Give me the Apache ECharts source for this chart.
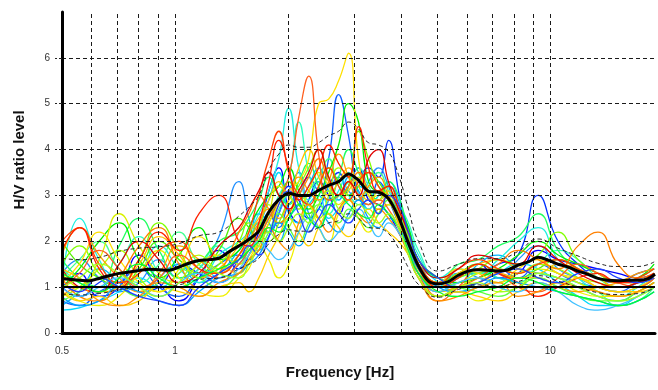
<!DOCTYPE html>
<html>
<head>
<meta charset="utf-8">
<script src="https://cdn.jsdelivr.net/npm/echarts@6/dist/echarts.min.js"></script>
<style>
  html, body { margin: 0; padding: 0; background: #fff; }
  #chart { width: 658px; height: 390px; }
</style>
</head>
<body>
<div id="chart"></div>
<script>
// Frequency samples (Hz) shared by the individual window curves and the std curves
const curveFreq = [0.5, 0.556, 0.628, 0.71, 0.802, 0.906, 1.025, 1.158, 1.309, 1.48,
  1.573, 1.672, 1.778, 1.89, 2.009, 2.136, 2.271, 2.414, 2.566, 2.728,
  2.9, 3.083, 3.278, 3.485, 3.704, 3.939, 4.187, 4.451, 5.031, 5.686,
  6.426, 7.262, 8.207, 9.275, 10.48, 11.85, 13.39, 15.13, 17.1, 18.9];

// H/V ratio of each time window
const w01 = [0.9,1.3,0.8,1.0,1.7,1.1,0.7,1.2,1.8,1.4, 1.7,2.2,3.1,3.6,2.7,2.4,2.9,3.3,3.0,2.6, 3.2,3.6,2.9,2.8,2.6,2.2,1.8,1.3,1.0,1.2, 1.5,1.2,1.3,1.8,1.6,1.5,1.4,1.3,1.2,1.3];
const w02 = [1.0,0.8,1.1,1.3,0.9,1.0,1.5,1.3,1.1,1.6, 1.9,2.4,2.2,2.6,3.2,2.9,2.5,2.7,3.2,3.5, 3.0,3.3,3.6,3.4,4.2,3.1,2.0,1.3,1.1,1.3, 1.3,1.5,1.7,3.0,2.0,1.5,1.2,1.1,1.3,1.4];
const w03 = [0.7,0.6,0.9,1.1,1.4,1.0,0.8,1.2,1.5,1.7, 1.6,2.0,2.6,2.3,2.8,3.0,3.4,3.1,3.8,5.2, 4.3,3.0,2.8,3.3,2.9,2.4,1.9,1.4,1.0,1.1, 1.2,1.4,1.2,1.5,1.3,1.1,1.0,0.9,1.1,1.2];
const w04 = [1.3,1.6,1.2,0.9,1.1,1.6,1.2,1.4,2.1,3.3, 2.5,1.8,2.1,2.6,3.1,3.5,2.6,2.3,2.9,3.4, 3.1,2.9,3.3,3.6,3.2,2.6,2.0,1.5,1.1,1.4, 1.2,1.1,1.6,1.9,1.4,1.2,1.0,0.9,1.0,1.2];
const w05 = [0.6,0.9,1.4,1.1,0.8,1.2,1.5,1.1,1.3,1.8, 2.1,2.6,2.4,2.0,2.5,2.8,3.2,3.6,3.1,2.9, 3.4,3.1,2.7,3.0,3.3,2.9,2.1,1.5,1.2,1.1, 1.5,1.7,1.4,1.3,1.2,1.0,0.8,0.7,0.9,1.1];
const w06 = [0.5,0.55,0.7,0.9,1.2,1.0,1.3,1.6,1.2,1.5, 1.9,2.3,2.9,3.5,2.6,2.4,2.8,3.0,2.5,2.7, 2.9,3.2,3.0,2.6,2.8,2.6,2.2,1.6,1.1,0.9, 1.1,1.3,1.5,1.4,1.1,0.8,0.6,0.6,0.8,1.0];
const w07 = [1.1,2.5,1.6,1.0,1.3,1.9,1.4,1.1,1.7,2.0, 2.2,2.6,3.1,3.8,4.9,3.6,2.9,3.3,2.8,3.1, 3.5,3.0,2.7,3.0,3.1,2.7,2.3,1.7,1.2,1.4, 1.3,1.6,2.0,2.3,1.6,1.2,0.9,0.8,1.0,1.3];
const w08 = [1.4,1.1,0.9,1.5,2.1,1.3,1.0,1.4,1.9,1.5, 1.8,2.1,2.5,3.0,3.4,4.6,3.5,2.9,2.6,3.0, 3.3,3.6,3.2,2.9,3.0,2.8,2.4,1.8,1.2,1.3, 1.4,1.2,1.1,1.5,1.8,1.6,1.2,1.0,1.1,1.3];
const w09 = [1.2,1.6,2.0,1.4,1.1,1.5,2.2,1.5,1.3,1.7, 2.0,2.4,2.2,2.7,3.0,2.7,3.1,3.4,3.8,3.2, 3.0,2.8,3.2,3.5,3.1,2.7,2.1,1.5,1.0,1.2, 1.3,1.2,1.1,1.3,1.2,1.1,0.9,0.6,0.7,1.0];
const w10 = [1.6,1.2,1.0,1.9,2.5,1.8,1.2,1.5,2.0,2.2, 2.5,2.9,3.4,3.0,2.8,3.3,3.7,3.2,2.9,3.4, 4.0,3.5,3.1,2.9,3.3,3.0,2.2,1.5,1.1,1.5, 1.6,1.9,2.1,2.6,1.8,1.4,1.2,1.1,1.2,1.4];
const w11 = [1.0,1.4,2.0,2.4,1.6,1.2,1.7,2.3,1.6,1.8, 2.3,2.7,3.0,3.2,3.6,3.1,2.7,3.0,3.5,4.1, 5.0,4.6,3.3,3.1,3.2,2.8,2.3,1.6,1.2,1.1, 1.2,1.4,1.7,2.0,1.7,1.5,1.3,1.1,1.2,1.5];
const w12 = [2.0,1.5,1.2,1.0,1.4,2.0,1.6,1.3,1.8,2.5, 2.3,2.0,2.4,2.9,3.3,2.8,2.6,3.2,3.6,3.3, 3.0,3.2,3.5,3.3,2.9,2.5,2.0,1.5,1.1,1.3, 1.5,1.3,1.2,1.4,1.6,1.4,1.2,1.0,1.1,1.3];
const w13 = [1.5,1.9,1.3,1.1,1.6,2.4,1.8,1.2,1.5,2.0, 2.4,2.2,2.0,2.4,2.9,3.2,3.6,4.0,3.4,3.0, 3.2,4.4,3.8,3.2,3.0,2.6,2.0,1.4,1.0,1.2, 1.4,1.6,1.5,1.7,2.2,1.6,1.3,1.1,1.1,1.3];
const w14 = [0.8,1.0,1.4,1.8,1.2,0.9,1.3,1.7,1.4,1.6, 1.9,2.3,2.8,2.4,2.6,3.0,2.8,2.5,3.0,3.6, 3.4,3.0,2.8,3.1,2.9,2.5,1.9,1.4,1.0,1.1, 1.3,1.4,1.3,1.5,1.4,1.2,1.1,1.0,1.0,1.2];
const w15 = [1.3,1.0,1.6,2.6,1.9,1.3,1.1,1.5,1.7,1.5, 1.7,2.0,2.6,3.2,3.0,2.7,3.1,3.5,3.2,2.8, 3.1,3.4,3.0,2.7,2.8,2.4,1.8,1.3,0.9,1.0, 1.2,1.1,1.3,1.4,1.3,1.1,0.9,0.8,0.9,1.1];
const w16 = [0.9,0.7,0.6,0.8,1.3,1.8,1.2,0.9,0.8,1.2, 1.4,1.9,1.6,1.2,1.5,2.2,2.8,2.3,2.0,2.6, 2.9,2.5,2.2,2.6,2.8,2.6,2.0,1.3,0.8,0.9, 0.7,0.9,1.1,1.0,1.1,0.9,0.8,0.8,0.9,1.1];
const w17 = [1.1,1.5,2.2,1.6,1.1,0.9,1.4,2.1,1.6,1.3, 1.6,2.0,2.4,2.8,3.1,3.3,3.8,5.0,5.1,5.5, 6.1,3.8,3.0,2.9,3.1,2.7,2.1,1.5,1.1,1.4, 1.3,1.1,1.4,1.6,1.3,1.2,1.0,0.9,1.0,1.2];
const w18 = [1.4,1.2,0.9,1.0,1.5,2.1,1.7,1.2,1.4,1.9, 2.2,2.5,2.9,3.3,3.0,3.6,4.0,3.4,3.0,3.3, 3.6,3.2,2.9,3.0,2.9,2.4,1.9,1.4,1.0,1.3, 1.5,1.6,1.4,1.3,1.5,1.4,1.2,1.0,1.1,1.3];
const w19 = [1.7,2.3,1.7,1.2,0.9,1.3,1.9,1.6,1.3,1.7, 2.0,2.4,2.7,2.5,2.9,3.4,3.1,2.9,3.3,3.9, 3.4,2.9,3.2,3.4,3.0,2.6,2.0,1.4,0.9,1.0, 1.1,1.3,1.2,1.2,1.0,0.9,1.0,1.1,1.3,1.4];
const w20 = [1.2,0.8,0.7,1.2,1.9,2.3,1.5,1.0,1.3,2.2, 2.6,3.0,2.7,2.4,2.6,3.0,3.4,3.8,3.3,3.0, 3.2,3.5,3.1,2.8,3.0,2.7,2.1,1.5,0.8,1.0, 1.2,1.5,1.8,1.6,1.4,1.9,2.2,1.5,1.2,1.3];
const w21 = [1.0,1.3,1.8,1.4,1.0,1.2,1.7,1.4,1.2,1.5, 1.8,2.1,2.5,2.9,3.4,4.7,5.6,3.9,2.9,3.0, 3.3,3.0,2.8,2.9,2.7,2.3,1.8,1.3,0.7,1.0, 1.4,1.3,1.0,0.9,1.2,1.5,1.3,1.1,1.0,1.2];
const w22 = [2.0,2.3,1.5,1.1,1.3,1.8,2.0,1.4,1.3,1.7, 2.2,3.0,3.8,4.4,3.5,3.0,2.8,3.2,3.6,3.2, 2.9,3.3,3.5,3.2,2.9,2.6,2.0,1.5,1.1,1.4, 1.6,1.4,1.3,1.5,1.6,1.4,1.2,1.1,1.2,1.4];
const w23 = [1.8,2.3,1.4,1.0,1.6,2.2,1.8,2.6,3.0,2.0, 1.9,2.4,3.3,4.2,3.6,2.9,3.2,3.6,4.1,3.7, 3.4,4.5,3.6,3.1,3.2,2.8,2.1,1.5,1.0,1.2, 1.5,1.3,1.1,0.8,1.0,1.2,1.3,1.1,1.1,1.3];
const w24 = [1.4,1.0,0.9,1.5,2.0,1.6,1.1,1.3,1.9,2.3, 2.7,3.1,3.5,3.0,2.7,3.1,3.5,4.0,3.4,3.0, 3.3,3.0,3.8,4.0,3.3,2.7,2.2,1.6,1.2,1.4, 1.7,1.6,1.5,1.9,1.6,1.3,1.1,1.0,1.1,1.3];
const w25 = [0.8,0.6,0.7,1.0,0.9,0.7,0.6,0.9,1.2,1.3, 1.5,1.7,2.1,2.4,2.2,1.9,2.3,2.7,2.4,2.2, 2.6,2.9,2.5,2.3,2.5,2.3,1.9,1.4,1.0,0.9, 1.0,1.2,1.1,1.0,0.9,0.8,0.7,0.6,0.7,0.9];
const w26 = [0.7,0.9,1.2,1.0,0.8,1.1,1.4,1.2,1.0,1.3, 1.6,1.8,2.2,2.6,2.3,2.0,2.4,2.8,2.6,2.4, 2.7,2.5,2.3,2.6,2.9,2.6,2.1,1.6,1.2,1.0, 0.9,0.8,1.0,1.2,1.0,0.8,0.7,0.7,0.9,1.1];
const w27 = [0.9,0.7,0.8,0.6,0.7,1.0,0.9,0.8,1.0,1.1, 0.9,1.2,1.7,2.1,2.5,2.2,1.9,2.3,2.6,2.3, 2.1,2.4,2.7,2.4,2.2,2.0,1.7,1.2,0.8,0.9, 0.8,0.7,0.9,1.1,1.0,1.2,1.0,0.9,0.9,1.0];
const w28 = [0.8,1.0,0.7,0.6,0.8,1.1,1.0,0.8,1.1,1.3, 1.6,1.8,2.3,2.0,1.8,2.4,2.8,2.5,2.2,2.7, 2.9,2.6,2.4,2.7,2.5,2.2,1.7,1.2,0.7,0.8, 1.0,1.1,0.8,0.9,1.1,1.0,0.9,0.8,0.9,1.1];
const w29 = [1.0,0.8,1.0,1.2,1.0,0.8,1.1,1.3,1.1,1.4, 1.7,2.0,1.8,1.6,1.8,2.2,2.5,2.3,2.0,2.2, 2.5,2.7,2.4,2.1,2.4,2.2,1.8,1.3,0.9,1.1, 1.2,1.0,0.9,1.1,0.9,0.6,0.5,0.6,0.8,1.0];
const w30 = [1.3,1.1,0.9,1.2,1.5,1.2,1.0,1.2,1.4,1.6, 1.8,2.0,2.3,2.2,2.5,2.8,2.5,2.3,2.7,3.0, 2.8,2.6,2.5,2.8,2.6,2.3,1.8,1.3,0.9,0.8, 0.9,1.0,1.2,1.1,0.9,0.8,0.7,0.6,0.7,0.9];
const w31 = [1.1,0.9,1.2,1.0,0.8,0.7,0.6,1.0,1.3,1.6, 1.9,1.7,2.1,2.8,3.1,2.6,2.2,2.5,2.8,2.6, 2.4,2.7,2.9,2.6,3.0,2.8,2.2,1.6,1.2,1.0, 1.1,1.3,1.4,1.2,1.1,1.3,1.4,1.2,1.1,1.2];
const w32 = [1.0,1.2,1.5,1.3,1.0,0.8,1.1,1.6,1.3,1.2, 1.5,1.9,2.2,2.0,2.3,2.6,2.4,2.8,3.1,2.7, 2.5,2.8,2.6,2.4,2.6,2.3,1.7,1.2,0.8,1.0, 1.1,0.9,1.0,1.3,1.2,1.0,0.8,0.7,0.8,1.0];

const windowCurves = [w01, w02, w03, w04, w05, w06, w07, w08, w09, w10, w11, w12, w13, w14, w15, w16,
  w17, w18, w19, w20, w21, w22, w23, w24, w25, w26, w27, w28, w29, w30, w31, w32];
const windowColors = ['#0000ff', '#0030ff', '#1060ff', '#2090ff', '#00b0ff', '#00d8ff', '#20f0e0', '#30ffc0',
  '#40ff90', '#20ff60', '#00f000', '#50f000', '#80ff00', '#b0ff00', '#d8f000', '#f0f000',
  '#ffe000', '#ffc000', '#ffa000', '#ff8000', '#ff6020', '#ff4000', '#ff2000', '#e00000',
  '#00a0ff', '#60ff40', '#ffd000', '#ff9000', '#40c0ff', '#00ff30', '#2040ff', '#a0ff20'];

// Standard deviation band of the average H/V
const stdUpper = [1.63,1.60,1.65,1.78,1.85,1.88,1.95,2.12,2.20,2.55, 2.75,3.00,3.55,3.90,4.10,4.05,4.05,4.15,4.30,4.40, 4.60,4.45,4.15,4.10,3.95,3.45,2.70,2.00,1.35,1.50, 1.62,1.62,1.78,2.05,1.85,1.68,1.52,1.45,1.45,1.55];
const stdLower = [0.85,0.83,0.86,0.94,0.99,1.00,1.05,1.17,1.20,1.40, 1.50,1.63,1.95,2.15,2.25,2.22,2.22,2.30,2.40,2.45, 2.60,2.50,2.30,2.28,2.17,1.85,1.42,1.06,0.78,0.95, 1.05,1.02,1.12,1.25,1.13,1.00,0.88,0.84,0.86,0.98];

// Average H/V curve
const meanFreq = [0.5,0.522,0.556,0.59,0.628,0.667,0.71,0.755,0.802,0.853, 0.906,0.964,1.025,1.089,1.158,1.231,1.309,1.392,1.48,1.573,
  1.672,1.778,1.89,2.009,2.136,2.271,2.414,2.566,2.728,2.9, 3.083,3.278,3.485,3.704,3.939,4.187,4.451,4.732,5.031,5.348,
  5.686,6.044,6.426,6.831,7.262,7.72,8.207,8.725,9.275,9.86, 10.48,11.14,11.85,12.6,13.39,14.23,15.13,16.09,17.1,18.18,19.0];
const meanHV = [1.19,1.17,1.15,1.14,1.19,1.25,1.30,1.33,1.36,1.39, 1.38,1.37,1.44,1.52,1.58,1.60,1.63,1.77,1.90,2.04,
  2.22,2.64,2.91,3.05,3.00,3.00,3.11,3.22,3.30,3.47, 3.33,3.09,3.07,2.93,2.53,1.96,1.46,1.13,1.07,1.12,
  1.26,1.35,1.38,1.37,1.35,1.38,1.48,1.55,1.65,1.59, 1.50,1.44,1.35,1.28,1.19,1.15,1.14,1.15,1.15,1.18,1.28];

// Axis ticks and grid positions
const xLabelValues = [0.5, 1, 10];
const xGridValues = [0.6, 0.7, 0.8, 0.9, 1, 2, 3, 4, 5, 6, 7, 8, 9, 10];
const yGridValues = [2, 3, 4, 5, 6];
const yTickValues = [0, 1, 2, 3, 4, 5, 6];
const referenceLevel = 1;

const pair = (xs, ys) => xs.map((x, i) => [x, ys[i]]);
const chart = echarts.init(document.getElementById('chart'), null, { renderer: 'canvas' });

const series = [];
windowCurves.forEach((vals, k) => {
  series.push({
    type: 'line', data: pair(curveFreq, vals), smooth: 0.5, symbol: 'none', silent: true, z: 2,
    lineStyle: { color: windowColors[k], width: 1.3 }
  });
});
[stdUpper, stdLower].forEach(vals => {
  series.push({
    type: 'line', data: pair(curveFreq, vals), smooth: 0.5, symbol: 'none', silent: true, z: 3,
    lineStyle: { color: '#222', width: 1, type: [4, 3] }
  });
});
// dashed grid plus the solid H/V = 1 reference line
series.push({
  type: 'line', data: [], silent: true, z: 4,
  markLine: {
    silent: true, symbol: ['none', 'none'], label: { show: false }, animation: false,
    lineStyle: { color: '#1a1a1a', width: 1, type: [4, 3] },
    data: xGridValues.map(v => ({ xAxis: v }))
      .concat(yGridValues.map(v => ({ yAxis: v })))
      .concat([{ yAxis: referenceLevel, lineStyle: { color: '#000', width: 2, type: 'solid' } }])
  }
});
series.push({
  type: 'line', data: pair(meanFreq, meanHV), smooth: 0.3, symbol: 'none', silent: true, z: 6,
  lineStyle: { color: '#000', width: 3 }
});

const isLabel = v => xLabelValues.some(t => Math.abs(t - v) < 1e-6 * Math.max(1, t));

chart.setOption({
  animation: false,
  backgroundColor: '#fff',
  grid: { left: 62, right: 0, top: 12, bottom: 57, containLabel: false },
  xAxis: {
    type: 'log', logBase: 10, min: 0.5, max: 19, z: 10,
    axisLine: { show: true, lineStyle: { color: '#000', width: 3 } },
    axisTick: { show: false },
    splitLine: { show: false },
    axisLabel: {
      margin: 13, color: '#333', fontSize: 10, fontFamily: 'Liberation Sans, Arial, sans-serif',
      showMinLabel: true, showMaxLabel: true, hideOverlap: false,
      formatter: v => isLabel(v) ? String(Math.round(v * 10) / 10) : ''
    }
  },
  yAxis: {
    type: 'value', min: 0, max: 7, interval: 1, z: 10,
    axisLine: { show: true, lineStyle: { color: '#000', width: 3 } },
    axisTick: { show: true, length: 7, customValues: yTickValues, lineStyle: { color: '#222', width: 1, type: [3, 2] } },
    splitLine: { show: false },
    axisLabel: {
      margin: 12, color: '#333', fontSize: 10, fontFamily: 'Liberation Sans, Arial, sans-serif',
      formatter: v => v <= 6 ? String(v) : ''
    }
  },
  graphic: [
    {
      type: 'text', x: 340, y: 373, silent: true,
      style: { text: 'Frequency [Hz]', font: 'bold 15px "Liberation Sans Narrow", "Arial Narrow", "Liberation Sans", sans-serif',
        fill: '#111', align: 'center', verticalAlign: 'middle' }
    },
    {
      type: 'text', x: 20, y: 160, rotation: Math.PI / 2, silent: true,
      style: { text: 'H/V ratio level', font: 'bold 15px "Liberation Sans Narrow", "Arial Narrow", "Liberation Sans", sans-serif',
        fill: '#111', align: 'center', verticalAlign: 'middle' }
    }
  ],
  series: series
});
</script>
</body>
</html>
